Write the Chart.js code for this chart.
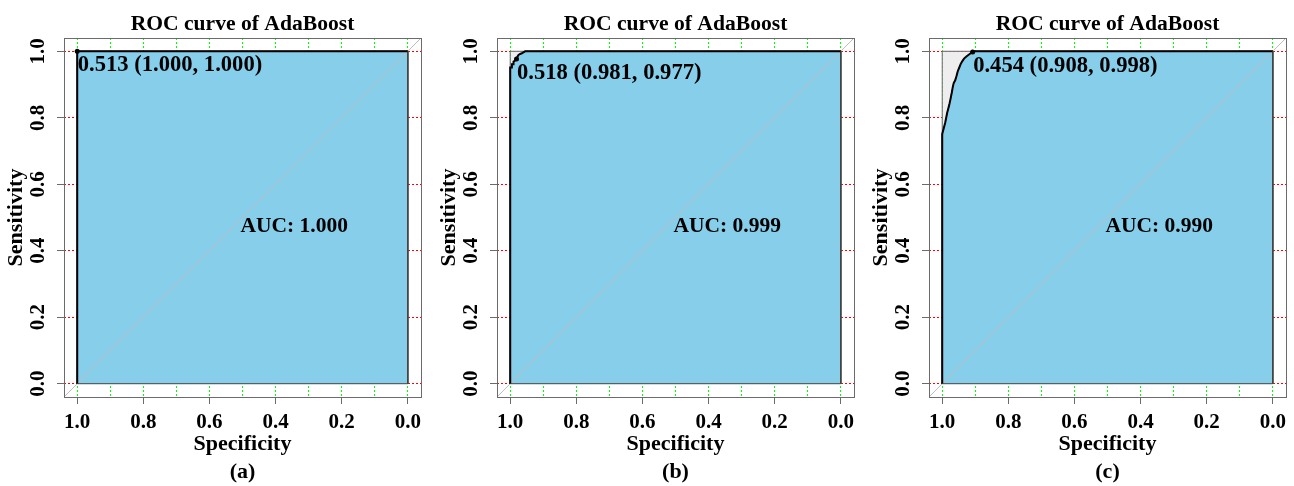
<!DOCTYPE html>
<html>
<head>
<meta charset="utf-8">
<script src="https://cdn.jsdelivr.net/npm/chart.js@4.4.0/dist/chart.umd.min.js"></script>
<style>
  body { margin: 0; background: #fff; width: 1294px; height: 486px; overflow: hidden; position: relative; }
  canvas { position: absolute; top: 0; }
</style>
</head>
<body>
<canvas id="rocA" width="429" height="486" style="left:0px"></canvas>
<canvas id="rocB" width="429" height="486" style="left:433px"></canvas>
<canvas id="rocC" width="429" height="486" style="left:865px"></canvas>
<script>
// values
const panelLabels = ['(a)', '(b)', '(c)'];
const chartTitle = 'ROC curve of AdaBoost';

const specA = [1, 1, 0];
const sensA = [0, 1, 1];

const specB = [1, 1, 0.995, 0.995, 0.990, 0.990, 0.985, 0.981, 0.979, 0.975, 0.970, 0.965, 0.960, 0.955, 0];
const sensB = [0, 0.951, 0.951, 0.961, 0.961, 0.969, 0.972, 0.977, 0.982, 0.989, 0.992, 0.994, 0.997, 1, 1];

const specC = [1, 1, 0.996, 0.991, 0.988, 0.985, 0.981, 0.978, 0.975, 0.971, 0.968, 0.965, 0.961, 0.957, 0.953, 0.948, 0.944, 0.940, 0.934, 0.926, 0.918, 0.908, 0.904, 0];
const sensC = [0, 0.751, 0.766, 0.785, 0.800, 0.815, 0.830, 0.842, 0.856, 0.876, 0.893, 0.905, 0.912, 0.925, 0.940, 0.952, 0.962, 0.969, 0.978, 0.985, 0.991, 0.998, 1, 1];

const aucValues = [1.000, 0.999, 0.990];
const thrValues = [0.513, 0.518, 0.454];
const thrSpec = [1.000, 0.981, 0.908];
const thrSens = [1.000, 0.977, 0.998];

const xTickValues = [0, 0.1, 0.2, 0.3, 0.4, 0.5, 0.6, 0.7, 0.8, 0.9, 1.0];
const yTickValues = [0, 0.2, 0.4, 0.6, 0.8, 1.0];

const maxSpec = [1, 1, 0, 0];
const maxSens = [0, 1, 1, 0];
const baseSpec = [0, 1];
const baseSens = [0, 0];
const diagSpec = [1.04, -0.04];
const diagSens = [-0.04, 1.04];

const serif = "'Liberation Serif', 'Times New Roman', serif";
Chart.defaults.font.family = serif;
Chart.defaults.color = '#000';

const toPoints = (xs, ys) => xs.map((v, i) => ({ x: v, y: ys[i] }));

// dotted grid like pROC's grid=c(0.1, 0.2), under the polygons
const rocGrid = {
  id: 'rocGrid',
  beforeDatasetsDraw(chart) {
    const { ctx, chartArea: a, scales: { x, y } } = chart;
    ctx.save();
    ctx.lineWidth = 1;
    ctx.setLineDash([2, 2]);
    ctx.strokeStyle = '#00ff00';
    xTickValues.forEach(v => {
      const px = Math.floor(x.getPixelForValue(v)) + 0.5;
      ctx.beginPath(); ctx.moveTo(px, a.top); ctx.lineTo(px, a.bottom); ctx.stroke();
    });
    ctx.strokeStyle = '#ff0000';
    yTickValues.forEach(v => {
      const py = Math.floor(y.getPixelForValue(v)) + 0.5;
      ctx.beginPath(); ctx.moveTo(a.left, py); ctx.lineTo(a.right, py); ctx.stroke();
    });
    ctx.restore();
  }
};

const rocText = {
  id: 'rocText',
  afterDraw(chart, args, opts) {
    const { ctx, chartArea: a, scales: { x, y } } = chart;
    ctx.save();
    ctx.strokeStyle = '#6b6b6b';
    ctx.lineWidth = 1;
    ctx.strokeRect(Math.round(a.left) + 0.5, Math.round(a.top) + 0.5,
      Math.round(a.right - a.left), Math.round(a.bottom - a.top));
    ctx.fillStyle = '#000';
    ctx.font = 'bold 21.6px ' + serif;
    ctx.textAlign = 'center';
    ctx.textBaseline = 'middle';
    ctx.fillText(chartTitle, (a.left + a.right) / 2, 24);

    ctx.font = 'bold 21.5px ' + serif;
    ctx.textAlign = 'left';
    ctx.fillText('AUC: ' + opts.auc.toFixed(3), x.getPixelForValue(0.5) - 2, y.getPixelForValue(0.5) + 9);

    ctx.font = 'bold 22.6px ' + serif;
    const label = opts.thr.toFixed(3) + ' (' + opts.spec.toFixed(3) + ', ' + opts.sens.toFixed(3) + ')';
    ctx.fillText(label, x.getPixelForValue(opts.spec) + 0.5, y.getPixelForValue(opts.sens) + 14);
    ctx.restore();
  }
};

function makeChart(id, spec, sens, i) {
  // area under the curve: curve, then down the right edge to (0, 0)
  const polySpec = spec.concat([0]);
  const polySens = sens.concat([0]);
  new Chart(document.getElementById(id), {
    type: 'line',
    data: {
      datasets: [
        { data: [{ x: thrSpec[i], y: thrSens[i] }], showLine: false, pointRadius: 2.5,
          pointBackgroundColor: '#000', pointBorderWidth: 0, order: 0 },
        { data: toPoints(spec, sens), borderColor: '#000', borderWidth: 2, pointRadius: 0, fill: false, order: 1 },
        { data: toPoints(diagSpec, diagSens), borderColor: '#bdbdbd', borderWidth: 1, pointRadius: 0, fill: false, order: 2 },
        { data: toPoints(baseSpec, baseSens), borderColor: '#444', borderWidth: 1, pointRadius: 0, fill: false, order: 3 },
        { data: toPoints(polySpec, polySens), borderColor: '#444', borderWidth: 1, pointRadius: 0,
          fill: 'origin', backgroundColor: '#87ceeb', order: 4 },
        { data: toPoints(maxSpec, maxSens), borderColor: '#666', borderWidth: 1, pointRadius: 0,
          fill: 'origin', backgroundColor: '#eeeeee', order: 5 }
      ]
    },
    options: {
      responsive: false,
      animation: false,
      events: [],
      layout: { padding: { left: 0, right: 8, top: 38, bottom: 0 } },
      plugins: {
        legend: { display: false },
        tooltip: { enabled: false },
        rocText: { auc: aucValues[i], thr: thrValues[i], spec: thrSpec[i], sens: thrSens[i] }
      },
      scales: {
        x: {
          type: 'linear', reverse: true, min: -0.04, max: 1.04,
          afterBuildTicks: s => { s.ticks = yTickValues.map(v => ({ value: v })); },
          afterFit: s => { s.height = 89; },
          ticks: {
            autoSkip: false, maxRotation: 0, padding: 6,
            font: { size: 21, weight: 'bold' },
            callback: v => v.toFixed(1)
          },
          grid: { drawOnChartArea: false, tickLength: 7, tickWidth: 1, tickColor: '#6b6b6b' },
          border: { display: false },
          title: {
            display: true, text: ['Specificity', panelLabels[i]],
            font: { size: 22, weight: 'bold', lineHeight: 1.25 }, padding: { top: 0, bottom: 0 }
          }
        },
        y: {
          type: 'linear', min: -0.04, max: 1.04,
          afterBuildTicks: s => { s.ticks = yTickValues.map(v => ({ value: v })); },
          afterFit: s => { s.width = 64; },
          ticks: {
            autoSkip: false, minRotation: 90, maxRotation: 90, crossAlign: 'center', padding: 5,
            font: { size: 21, weight: 'bold' },
            callback: v => v.toFixed(1)
          },
          grid: { drawOnChartArea: false, tickLength: 7, tickWidth: 1, tickColor: '#6b6b6b' },
          border: { display: false },
          title: {
            display: true, text: 'Sensitivity',
            font: { size: 22, weight: 'bold', lineHeight: 1.25 }, padding: { top: 3, bottom: 0 }
          }
        }
      }
    },
    plugins: [rocGrid, rocText]
  });
}

makeChart('rocA', specA, sensA, 0);
makeChart('rocB', specB, sensB, 1);
makeChart('rocC', specC, sensC, 2);
</script>
</body>
</html>
